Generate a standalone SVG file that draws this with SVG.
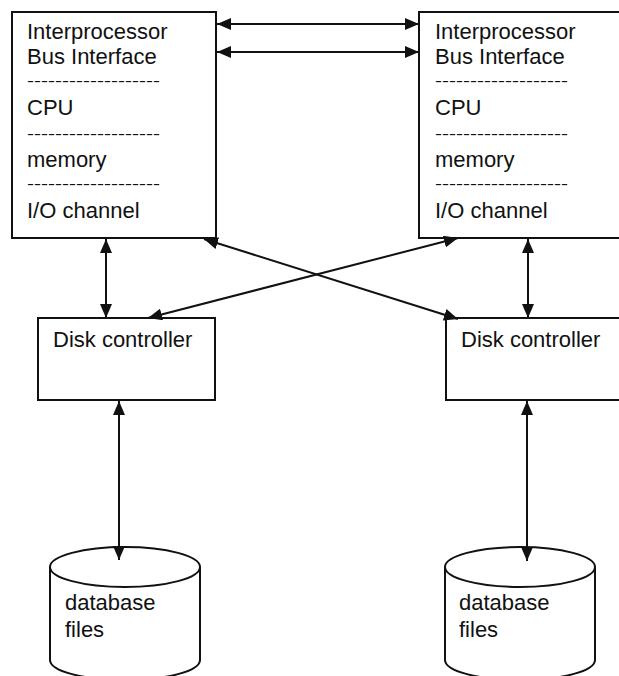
<svg xmlns="http://www.w3.org/2000/svg" width="619" height="676" viewBox="0 0 619 676">
<defs>
<style>
.box{fill:#fff;stroke:#111;stroke-width:2}
.t{font-family:"Liberation Sans",Arial,sans-serif;font-size:22px;fill:#111}
.d{font-family:"Liberation Sans",Arial,sans-serif;font-size:14px;fill:#111}
.c{stroke:#111;stroke-width:2;fill:none;marker-start:url(#ah);marker-end:url(#ah)}
</style>
<marker id="ah" viewBox="0 0 14 12" refX="14" refY="6" markerWidth="14" markerHeight="12" markerUnits="userSpaceOnUse" orient="auto-start-reverse">
<path d="M0,0 L14,6 L0,12 Z" fill="#111"/>
</marker>
</defs>
<rect width="619" height="676" fill="#fff"/>
<g id="cpu-left">
<rect class="box" x="12" y="12" width="204" height="226"/>
<text class="t" x="27" y="39">Interprocessor</text>
<text class="t" x="27" y="64">Bus Interface</text>
<text class="d" x="27" y="86" textLength="133" lengthAdjust="spacingAndGlyphs">-------------------</text>
<text class="t" x="27" y="115">CPU</text>
<text class="d" x="27" y="139" textLength="133" lengthAdjust="spacingAndGlyphs">-------------------</text>
<text class="t" x="27" y="167">memory</text>
<text class="d" x="27" y="189" textLength="133" lengthAdjust="spacingAndGlyphs">-------------------</text>
<text class="t" x="27" y="218">I/O channel</text>
</g>
<g id="cpu-right">
<rect class="box" x="419" y="12" width="210" height="226"/>
<text class="t" x="435" y="39">Interprocessor</text>
<text class="t" x="435" y="64">Bus Interface</text>
<text class="d" x="435" y="86" textLength="133" lengthAdjust="spacingAndGlyphs">-------------------</text>
<text class="t" x="435" y="115">CPU</text>
<text class="d" x="435" y="139" textLength="133" lengthAdjust="spacingAndGlyphs">-------------------</text>
<text class="t" x="435" y="167">memory</text>
<text class="d" x="435" y="189" textLength="133" lengthAdjust="spacingAndGlyphs">-------------------</text>
<text class="t" x="435" y="218">I/O channel</text>
</g>
<g id="disk-ctrl-left">
<rect class="box" x="38" y="318" width="177" height="82"/>
<text class="t" x="53" y="347">Disk controller</text>
</g>
<g id="disk-ctrl-right">
<rect class="box" x="446" y="318" width="183" height="82"/>
<text class="t" x="461" y="347">Disk controller</text>
</g>
<g id="db-left">
<path class="box" d="M50,567 L50,660 A75,20 0 0 0 200,660 L200,567"/>
<ellipse class="box" cx="125" cy="567" rx="75" ry="20"/>
<text class="t" x="65" y="610">database</text>
<text class="t" x="65" y="637">files</text>
</g>
<g id="db-right">
<path class="box" d="M445,567 L445,660 A75,20 0 0 0 595,660 L595,567"/>
<ellipse class="box" cx="520" cy="567" rx="75" ry="20"/>
<text class="t" x="459" y="610">database</text>
<text class="t" x="459" y="637">files</text>
</g>
<g id="connectors">
<line class="c" x1="217" y1="24" x2="419" y2="24"/>
<line class="c" x1="217" y1="52" x2="419" y2="52"/>
<line class="c" x1="106" y1="239" x2="106" y2="318"/>
<line class="c" x1="528" y1="239" x2="528" y2="318"/>
<line class="c" x1="204" y1="239" x2="458" y2="319"/>
<line class="c" x1="458" y1="238" x2="148" y2="318"/>
<line class="c" x1="119" y1="401" x2="119" y2="560"/>
<line class="c" x1="527" y1="401" x2="527" y2="561"/>
</g>
</svg>
